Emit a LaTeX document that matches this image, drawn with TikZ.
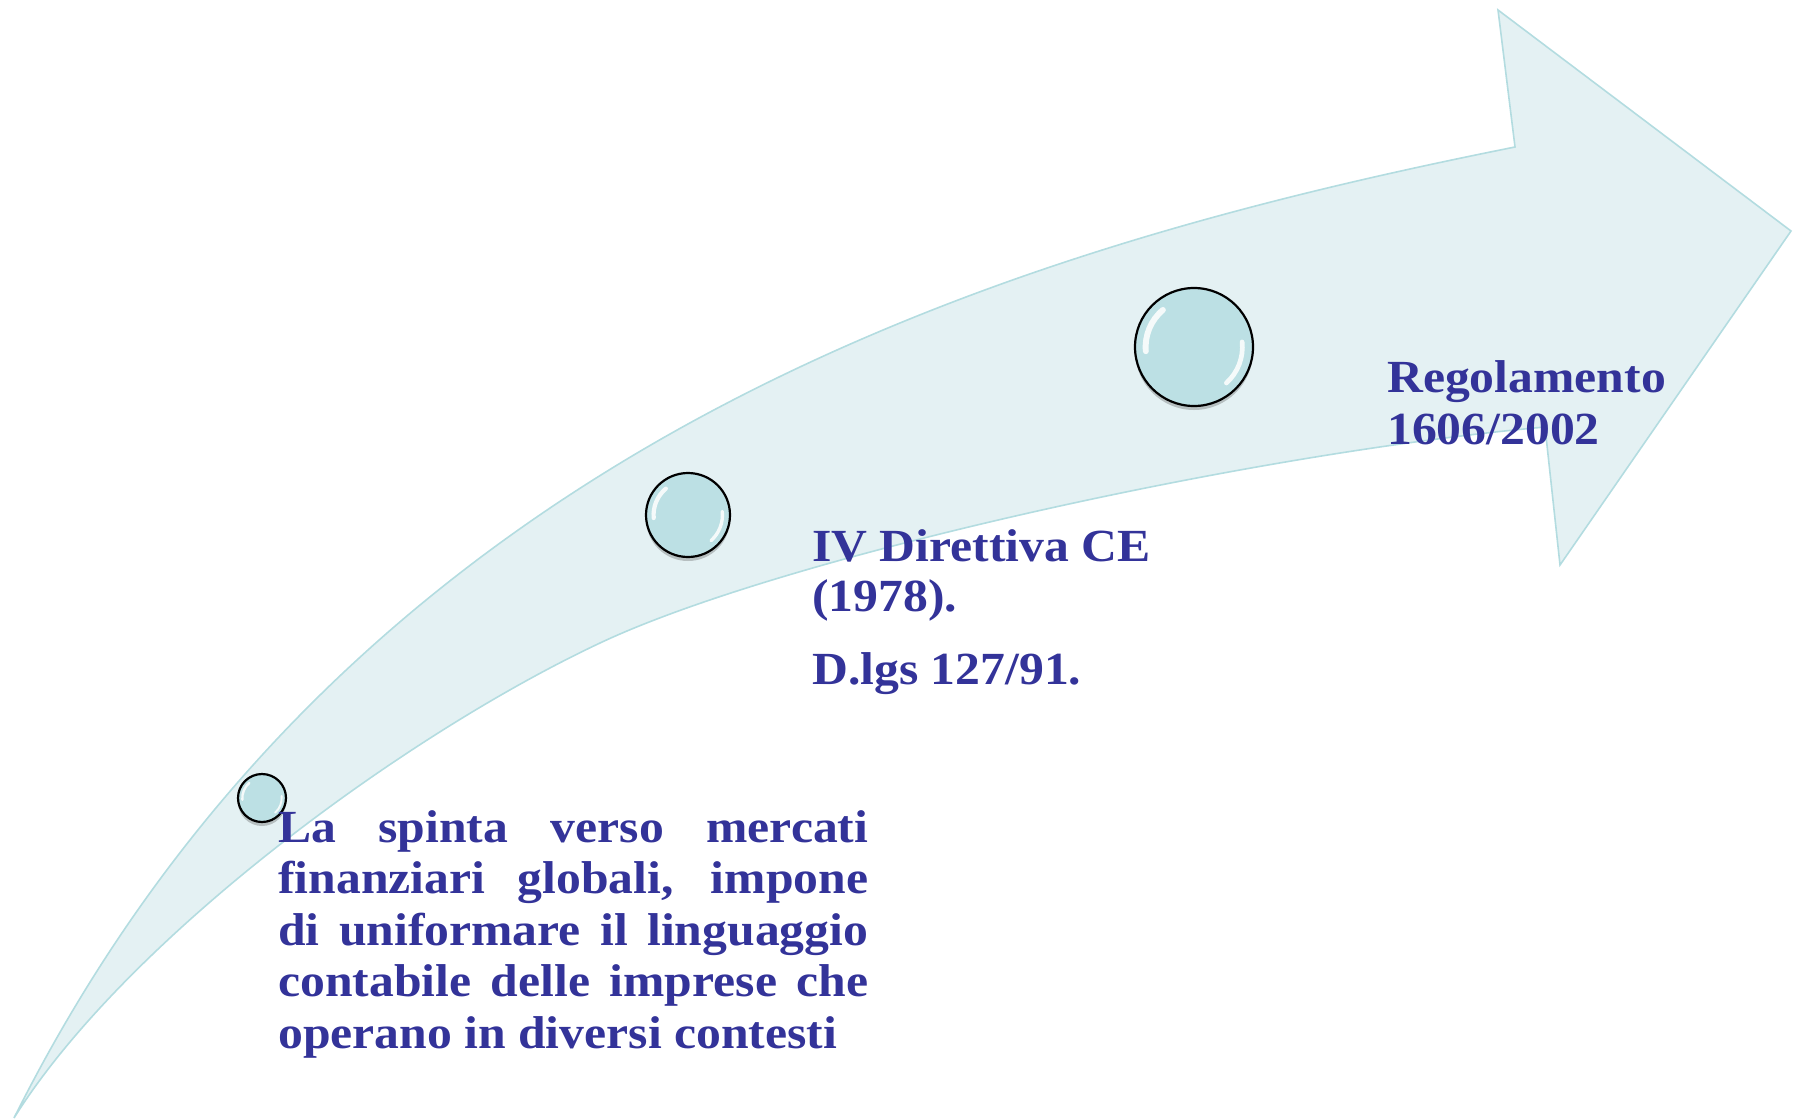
\documentclass[tikz,border=0pt]{standalone}
\usepackage{fontspec}
\setmainfont{Liberation Serif}
\newfontfamily\gar{Liberation Serif}[FakeStretch=1.08]
\usetikzlibrary{shadows,calc}
\definecolor{bandfill}{HTML}{E4F1F3}
\definecolor{bandline}{HTML}{B3DCE0}
\definecolor{bubblefill}{HTML}{BCE0E4}
\definecolor{txtblue}{HTML}{333399}
\tikzset{
  bubblenode/.style={circle, draw=black, line width=2.2pt, fill=bubblefill, inner sep=0pt,
    minimum size=#1, drop shadow={shadow xshift=0pt, shadow yshift=-4pt, opacity=0.3, fill=black!70}},
  lbl/.style={text=txtblue, font=\gar\bfseries\fontsize{46}{51.5}\selectfont, inner sep=0pt},
  shinearc/.style={white, opacity=0.85, line cap=round},
}
\newcommand\myshine[2]{%
  \draw[shinearc, line width=0.10*#2] ($(#1.center)+(175:0.82*#2)$) arc[start angle=175, end angle=230, radius=0.82*#2];
  \draw[shinearc, line width=0.08*#2] ($(#1.center)+(-6:0.82*#2)$) arc[start angle=-6, end angle=48, radius=0.82*#2];
}
\begin{document}
\begin{tikzpicture}[x=1pt,y=-1pt]
\useasboundingbox (0,0) rectangle (1803,1119);
% curved arrow
\filldraw[fill=bandfill, draw=bandline, line width=1.6pt, line join=miter]
  (14,1118) .. controls (354,438) and (1015,247) .. (1515,147)
  -- (1498,10) -- (1791,231) -- (1560,565) -- (1545,427)
  .. controls (1245,454) and (780,558) .. (600,643)
  .. controls (400,737) and (124,942) .. (14,1118)
  -- cycle;
% bubbles
\node[bubblenode=48pt] (b1) at (262,798) {};
\myshine{b1}{24}
\node[bubblenode=84pt] (b2) at (688,515) {};
\myshine{b2}{42}
\node[bubblenode=118pt] (b3) at (1194,347) {};
\myshine{b3}{59}
% texts
\node[lbl, text width=590pt, align=justify, anchor=base west] (t1) at (278,842)
  {La spinta verso mercati\linebreak finanziari globali, impone\linebreak di uniformare il linguaggio\linebreak contabile delle imprese che\linebreak operano in diversi contesti};
\node[lbl, align=left, anchor=base west] (t2) at (812,684)
  {IV Direttiva CE\\[-1pt](1978).\\[21pt]D.lgs 127/91.};
\node[lbl, align=left, anchor=base west] (t3) at (1387,444)
  {Regolamento\\[0.5pt]1606/2002};
\end{tikzpicture}
\end{document}
